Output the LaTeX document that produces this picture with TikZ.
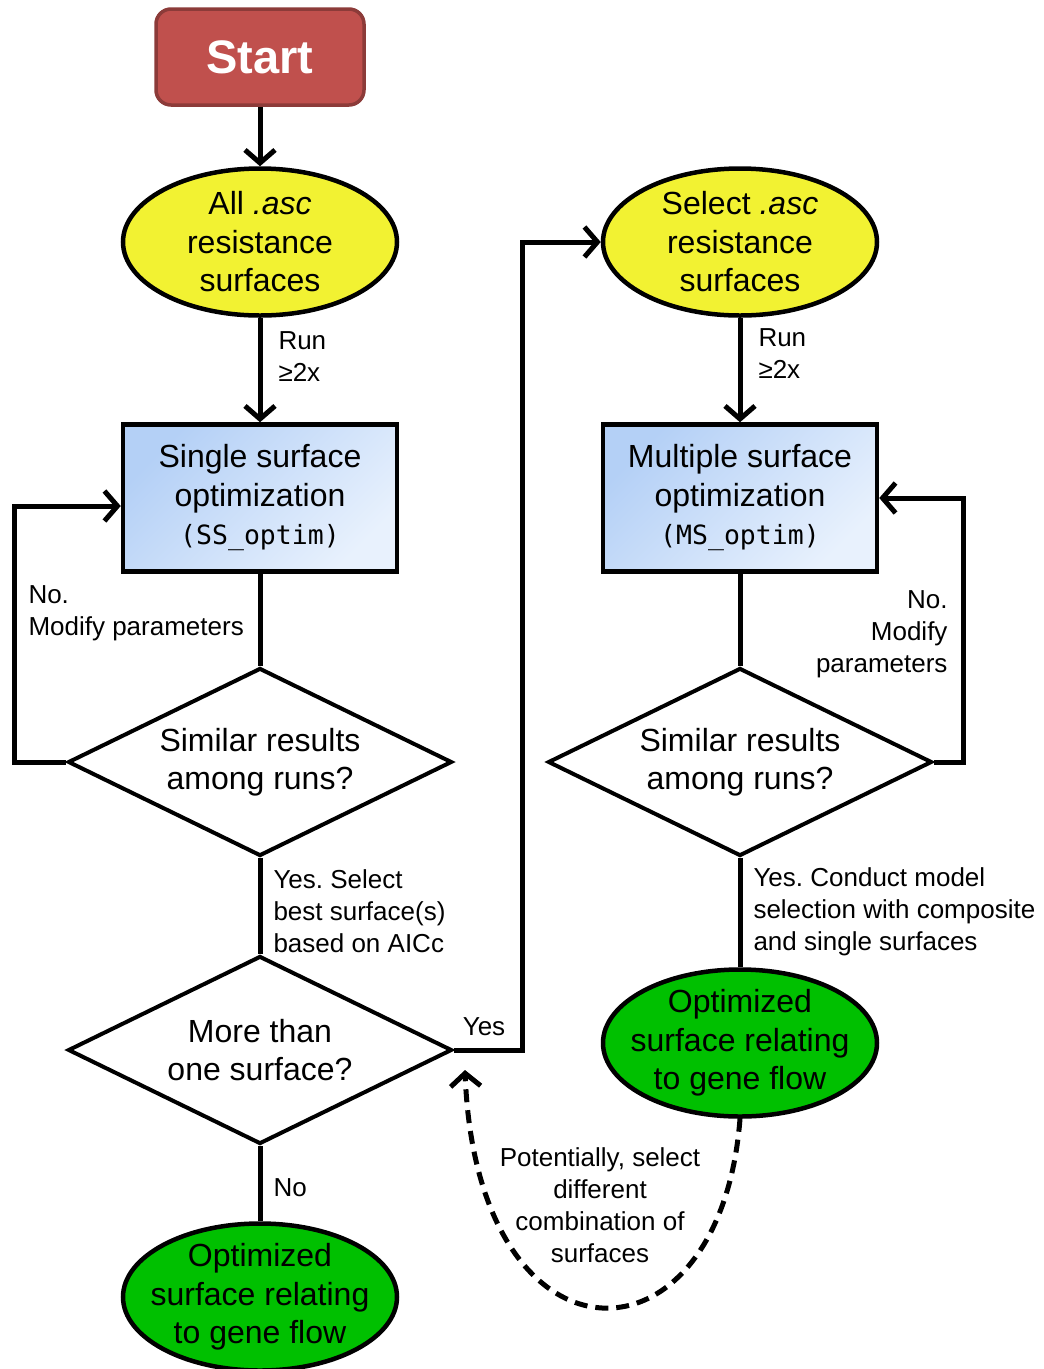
\documentclass[tikz,border=0pt]{standalone}
\usepackage{fontspec}
\setmainfont{Liberation Sans}
\setmonofont{DejaVu Sans Mono}
\usetikzlibrary{shapes.geometric,arrows.meta}
\frenchspacing

\definecolor{startred}{HTML}{C0504D}
\definecolor{startedge}{HTML}{8C3B39}
\definecolor{ascyellow}{HTML}{F2F232}
\definecolor{flowgreen}{HTML}{00C000}
\definecolor{optimtop}{HTML}{B4D0F6}
\definecolor{optimbot}{HTML}{E8F1FD}

\begin{document}
\begin{tikzpicture}[x=1pt,y=-1pt,line width=5pt,
    >={Straight Barb[length=13pt,width=30pt]},
    big/.style={font=\fontsize{32}{38.5}\selectfont,align=center},
    small/.style={font=\fontsize{26}{32}\selectfont,inner sep=0pt},
    startbox/.style={rectangle,rounded corners=15pt,draw=startedge,line width=3.5pt,fill=startred,text=white,
      font=\fontsize{47}{50}\selectfont\bfseries,minimum width=208pt,minimum height=96pt},
    oval/.style={ellipse,draw,big,line width=4.5pt,minimum width=274pt,minimum height=147pt,inner xsep=-20pt,inner ysep=-10pt},
    optbox/.style={rectangle,draw,big,line width=4.5pt,minimum width=274pt,minimum height=147pt,
      top color=optimtop,bottom color=optimbot,shading angle=45},
    decide/.style={diamond,draw,fill=white,big,aspect=2,inner sep=0pt,line width=4pt,
      minimum width=384pt,minimum height=188pt}]

  \useasboundingbox (0,0) rectangle (1044,1369);

  % left column
  \node[startbox] (start) at (260,57) {Start};
  \node[oval,fill=ascyellow] (all) at (260,242) {All \textit{.asc}\\resistance\\surfaces};
  \node[optbox] (ssopt) at (260,498) {Single surface\\optimization\\{\fontsize{26.5}{38.5}\selectfont\ttfamily (SS\_optim)}};
  \node[decide] (simss) at (260,762) {Similar results\\among runs?};
  \node[decide] (more) at (260,1050) {More than\\one surface?};
  \node[oval,fill=flowgreen] (optss) at (260,1297) {Optimized\\surface relating\\to gene flow};

  % right column
  \node[oval,fill=ascyellow] (sel) at (740,242) {Select \textit{.asc}\\resistance\\surfaces};
  \node[optbox] (msopt) at (740,498) {Multiple surface\\optimization\\{\fontsize{26.5}{38.5}\selectfont\ttfamily (MS\_optim)}};
  \node[decide] (simms) at (740,762) {Similar results\\among runs?};
  \node[oval,fill=flowgreen] (optms) at (740,1043) {Optimized\\surface relating\\to gene flow};

  \coordinate (loopL) at (14,506);
  \coordinate (loopR) at (963,498);
  \coordinate (yesup) at (522,242);
  \coordinate (back) at (465,1070);

  % connectors
  \draw[->] (start) -- (all);
  \draw[->] (all) -- (ssopt);
  \draw (ssopt) -- (simss);
  \draw[->] (simss.west) -| (loopL) -- (ssopt.west |- loopL);
  \draw (simss) -- (more);
  \draw (more) -- (optss);
  \draw[->] (more.east) -| (yesup) -- (sel.west);
  \draw[->] (sel) -- (msopt);
  \draw (msopt) -- (simms);
  \draw[->] (simms.east) -| (loopR) -- (msopt.east |- loopR);
  \draw (simms) -- (optms);
  \draw[->,dash pattern=on 13pt off 8pt] (optms.south) .. controls (720,1378) and (477,1378) .. (back);

  % labels
  \node[small,anchor=west,align=left] (run1) at (276,357) {Run\\≥2x};
  \node[small,anchor=west,align=left] (run2) at (756,354) {Run\\≥2x};
  \node[small,anchor=west,align=left] (nomod1) at (26,613) {No.\\Modify parameters};
  \node[small,anchor=east,align=right] (nomod2) at (950,634) {No.\\Modify\\parameters};
  \node[small,anchor=west,align=left] (yessel) at (271,911) {Yes. Select\\best surface(s)\\based on AICc};
  \node[small,anchor=west,align=left] (yescon) at (751,912) {Yes. Conduct model\\selection with composite\\and single surfaces};
  \node[small] (yes) at (484,1027) {Yes};
  \node[small,anchor=west] (no) at (271,1188) {No};
  \node[small,align=center] (pot) at (600,1205) {Potentially, select\\different\\combination of\\surfaces};
\end{tikzpicture}
\end{document}
